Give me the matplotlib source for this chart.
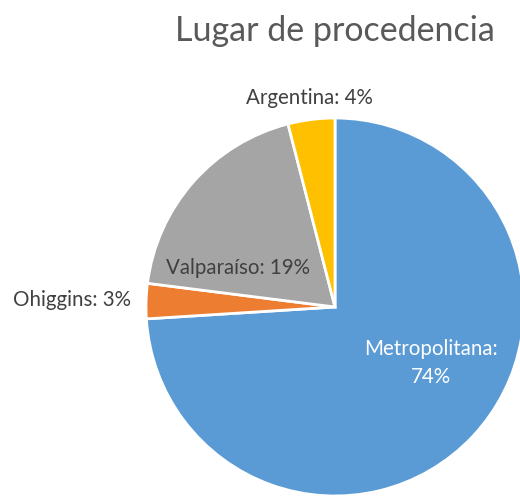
import matplotlib
matplotlib.use("Agg")
import matplotlib.pyplot as plt

categories = ["Metropolitana", "Ohiggins", "Valparaíso", "Argentina"]
values = [74, 3, 19, 4]
label_texts = ["Metropolitana:\n74%", "Ohiggins: 3%", "Valparaíso: 19%", "Argentina: 4%"]
title = "Lugar de procedencia"

colors = ["#5B9BD5", "#ED7D31", "#A5A5A5", "#FFC000"]
label_colors = ["white", "#404040", "#404040", "#404040"]
# label positions in pixel coords (x, y from top)
label_pos = [(431, 363), (72, 300), (238, 268), (309, 98)]

W, H = 520, 496
fig = plt.figure(figsize=(W / 100, H / 100), dpi=100)
ax = fig.add_axes([0, 0, 1, 1])

cx, cy, r = 335, H - 307, 189
ax.pie(values, colors=colors, startangle=90, counterclock=False,
       center=(cx, cy), radius=r, frame=True,
       wedgeprops=dict(edgecolor="white", linewidth=2))
ax.set_xlim(0, W)
ax.set_ylim(0, H)
ax.set_aspect("equal")
ax.axis("off")

for txt, (x, y), c in zip(label_texts, label_pos, label_colors):
    ax.text(x, H - y, txt, ha="center", va="center", color=c,
            fontsize=14.8, family=["Lato", "DejaVu Sans"], linespacing=1.45)

ax.text(335, H - 31, title, ha="center", va="center", color="#595959",
        fontsize=24.5, family=["Lato", "DejaVu Sans"])

fig.savefig("out.png", dpi=100)
